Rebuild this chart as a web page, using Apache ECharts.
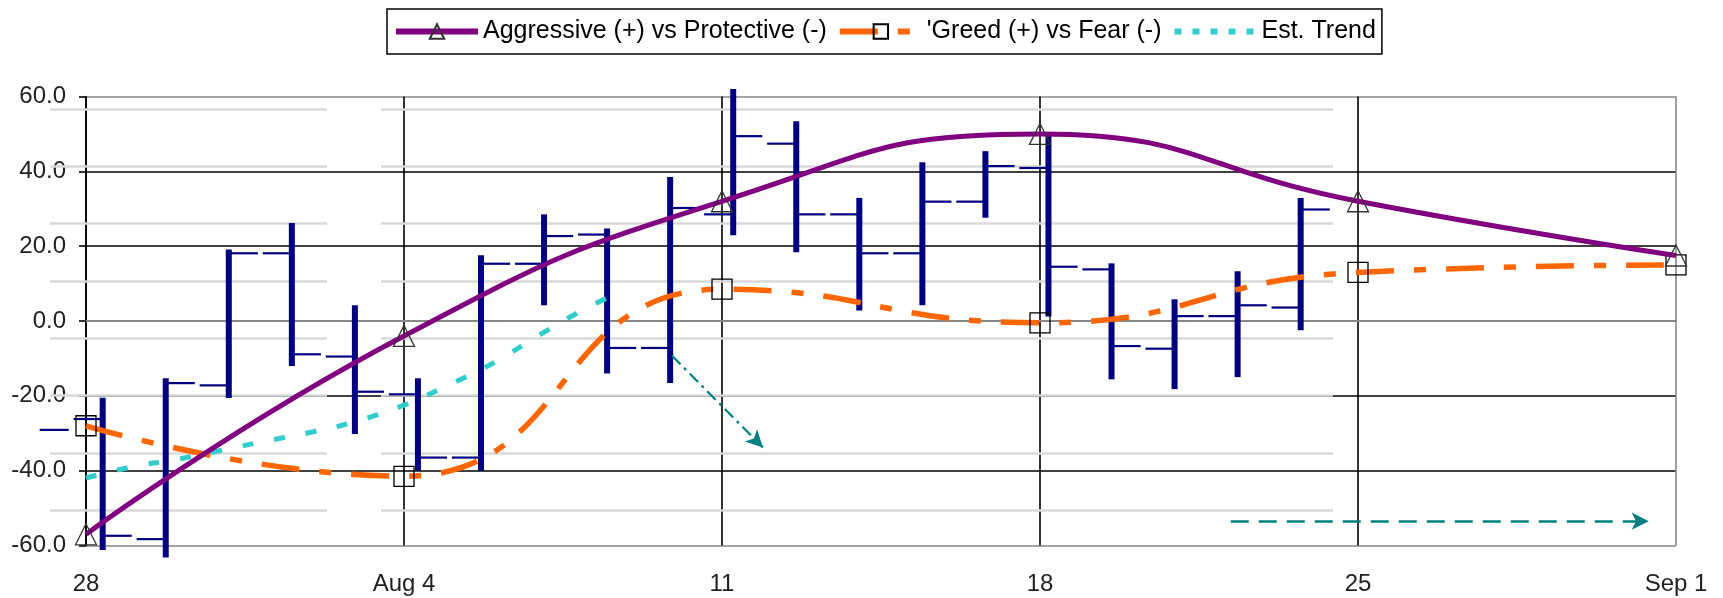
<!DOCTYPE html>
<html>
<head>
    <meta charset="utf-8">
    <title>Sentiment chart</title>
    <script src="https://cdn.jsdelivr.net/npm/echarts@6/dist/echarts.min.js"></script>
    <style type="text/css">
        html, body { margin: 0; padding: 0; background: #fff; }
        #chart { width: 1723px; height: 598px; }
    </style>
</head>
<body>
    <div id="chart"></div>
    <script>
        // weekly axis (days from Jul 28)
        var weekLabels = ['28', 'Aug 4', '11', '18', '25', 'Sep 1'];
        var weekDays = [0, 7, 14, 21, 28, 35];
        var aggressive = [-57, -4, 32, 50, 32, 17.5];
        var greed = [-28, -41.5, 8.5, -0.5, 13, 15];

        // est. trend
        var trendDays = [0, 1, 2, 3, 4, 5, 6, 7, 8, 9, 10, 11, 11.8];
        var trendVals = [-42, -39, -37, -34.5, -32, -29.6, -26.6, -22.5, -17, -11, -3.6, 3.3, 8];

        // daily bars (open / high / low / close)
        var barLabels = ['0', '1', '2', '3', '4', '5', '6', '7', '8', '9', '10', '11', '12', '13', '14', '15', '16', '17', '18', '19', '20'];
        var barOpen = ['-', -26.2, -58.3, -17.2, 18.1, -9.5, -19.6, -36.5, 15.3, 23.1, -7.2, 28.5, 47.4, 28.5, 18.1, 31.9, 40.9, 13.8, -7.4, 1.3, 3.6];
        var barHigh = ['-', -20.5, -15.3, 19.1, 26.2, 4.2, -15.3, 17.6, 28.5, 24.7, 38.5, 62, 53.4, 32.9, 42.4, 45.4, 50.3, 15.4, 5.8, 13.3, 32.9];
        var barLow = ['-', -61.2, -63.2, -20.6, -12.0, -30.2, -40.0, -40.0, 4.2, -14.0, -16.6, 22.9, 18.4, 2.8, 4.2, 27.6, 1.2, -15.6, -18.2, -15.0, -2.5];
        var barClose = [-29.1, -57.4, -16.6, 18.1, -8.9, -18.9, -36.5, 15.3, 22.7, -7.2, 30.2, 49.4, 28.5, 18.1, 31.9, 41.4, 14.5, -6.7, 1.3, 4.2, 29.8];

        // annotation arrows [dayFrom, valFrom, dayTo, valTo]
        var arrowDown = [12.9, -9.3, 14.9, -33.8];
        var arrowFlat = [25.2, -53.5, 34.4, -53.5];

        var FONT = "'Liberation Sans', Arial, sans-serif";

        var aggData = weekDays.map(function (d, i) { return [d, aggressive[i]]; });
        var greedData = weekDays.map(function (d, i) { return [d, greed[i]]; });
        var trendData = trendDays.map(function (d, i) { return [d, trendVals[i]]; });
        var barData = barLabels.map(function (c, i) { return [i, barOpen[i], barHigh[i], barLow[i], barClose[i]]; });

        function renderBar(params, api) {
            var i = api.value(0);
            var o = api.value(1), h = api.value(2), l = api.value(3), c = api.value(4);
            var band = api.size([1, 0])[0];
            var tick = band * 0.43;
            var kids = [];
            var tickStyle = { stroke: '#000080', lineWidth: 2.2 };
            if (!isNaN(h) && !isNaN(l)) {
                var top = api.coord([i, h]);
                var bot = api.coord([i, l]);
                kids.push({ type: 'line', shape: { x1: top[0], y1: top[1], x2: bot[0], y2: bot[1] }, style: { stroke: '#000080', lineWidth: 6 } });
            }
            if (!isNaN(o)) {
                var po = api.coord([i, o]);
                kids.push({ type: 'line', shape: { x1: po[0] - 2 - tick, y1: po[1], x2: po[0], y2: po[1] }, style: tickStyle });
            }
            if (!isNaN(c)) {
                var pc = api.coord([i, c]);
                kids.push({ type: 'line', shape: { x1: pc[0], y1: pc[1], x2: pc[0] + 2 + tick, y2: pc[1] }, style: tickStyle });
            }
            return { type: 'group', children: kids };
        }

        function grayAxis(idx) {
            return {
                type: 'value', gridIndex: idx, min: 0, max: 7, interval: 1, z: 1,
                axisLine: { show: false }, axisTick: { show: false }, axisLabel: { show: false },
                splitLine: { show: true, lineStyle: { color: '#d9d9d9', width: 2.5 } }
            };
        }

        var chart = echarts.init(document.getElementById('chart'));
        var option = {
            animation: false,
            backgroundColor: '#fff',
            textStyle: { fontFamily: FONT },
            legend: {
                left: 387, top: 9,
                padding: [10, 6, 10, 6],
                borderColor: '#000', borderWidth: 1.5,
                itemWidth: 82, itemHeight: 18, itemGap: 10,
                textStyle: { fontFamily: FONT, fontSize: 25, color: '#000' },
                data: [
                    { name: 'Aggressive (+) vs Protective (-)', lineStyle: { width: 6 } },
                    { name: "'Greed (+) vs Fear (-)", lineStyle: { width: 6 } },
                    { name: 'Est. Trend', lineStyle: { width: 6, type: [7, 11] }, itemStyle: { color: 'rgba(0,0,0,0)', borderWidth: 0 } }
                ]
            },
            grid: [
                { left: 86, right: 47, top: 96.5, bottom: 52.5, outerBoundsMode: 'none' },
                { left: 8.1, right: 390.8, top: 96.5, bottom: 52.5, outerBoundsMode: 'none' },
                { left: 50, right: 1396, top: 108.9, bottom: 87.6, outerBoundsMode: 'none' },
                { left: 381, right: 390, top: 108.9, bottom: 87.6, outerBoundsMode: 'none' }
            ],
            xAxis: [
                {
                    type: 'value', gridIndex: 0, min: 0, max: 35, interval: 7,
                    axisLine: { show: true, lineStyle: { color: '#888', width: 2 } },
                    axisTick: { show: false },
                    axisLabel: {
                        margin: 27, fontSize: 24, color: '#222', fontFamily: FONT,
                        formatter: function (v) { return weekLabels[weekDays.indexOf(v)]; }
                    },
                    splitLine: { show: true, lineStyle: { color: ['#000', '#000', '#000', '#000', '#000', '#888'], width: 1.6 } }
                },
                { type: 'category', gridIndex: 1, data: barLabels, boundaryGap: true, show: false },
                { type: 'value', gridIndex: 2, min: 0, max: 1, show: false },
                { type: 'value', gridIndex: 3, min: 0, max: 1, show: false }
            ],
            yAxis: [
                {
                    type: 'value', gridIndex: 0, min: -60, max: 60, interval: 20,
                    axisLine: { show: true, lineStyle: { color: '#000', width: 1.6 } },
                    axisTick: { show: true, inside: false, length: 7, lineStyle: { color: '#000', width: 1.6 } },
                    axisLabel: {
                        margin: 20, fontSize: 24, color: '#222', fontFamily: FONT,
                        formatter: function (v) { return v.toFixed(1); }
                    },
                    splitLine: { show: true, lineStyle: { color: ['#888', '#000', '#000', '#000', '#000', '#000', '#888'], width: 1.6 } }
                },
                { type: 'value', gridIndex: 1, min: -60, max: 60, show: false },
                grayAxis(2),
                grayAxis(3)
            ],
            series: [
                {
                    name: 'bars', type: 'custom', xAxisIndex: 1, yAxisIndex: 1,
                    renderItem: renderBar, data: barData, z: 3,
                    encode: { x: 0, y: [1, 2, 3, 4] }
                },
                {
                    name: 'Est. Trend', type: 'line', xAxisIndex: 0, yAxisIndex: 0,
                    data: trendData, smooth: true, showSymbol: false, symbol: 'none', z: 4,
                    itemStyle: { color: '#33cccc' },
                    lineStyle: { color: '#33cccc', width: 5, type: [11, 21] }
                },
                {
                    name: "'Greed (+) vs Fear (-)", type: 'line', xAxisIndex: 0, yAxisIndex: 0,
                    data: greedData, smooth: true, z: 5,
                    symbol: 'rect', symbolSize: 20,
                    itemStyle: { color: 'rgba(0,0,0,0)', borderColor: '#000', borderWidth: 1.3 },
                    lineStyle: { color: '#ff6600', width: 5.5, type: [38, 20, 12, 20] }
                },
                {
                    name: 'Aggressive (+) vs Protective (-)', type: 'line', xAxisIndex: 0, yAxisIndex: 0,
                    data: aggData, smooth: true, z: 6,
                    symbol: 'triangle', symbolSize: 21,
                    itemStyle: { color: 'rgba(0,0,0,0)', borderColor: '#333', borderWidth: 1.3 },
                    lineStyle: { color: '#800080', width: 5 },
                    markLine: {
                        silent: true, symbol: ['none', 'arrow'], symbolSize: [13, 17],
                        label: { show: false },
                        data: [
                            [
                                { coord: [arrowDown[0], arrowDown[1]], lineStyle: { color: '#008080', width: 2.2, type: [12, 5, 3, 5] } },
                                { coord: [arrowDown[2], arrowDown[3]] }
                            ],
                            [
                                { coord: [arrowFlat[0], arrowFlat[1]], lineStyle: { color: '#008080', width: 2.5, type: [18, 10] } },
                                { coord: [arrowFlat[2], arrowFlat[3]] }
                            ]
                        ]
                    }
                }
            ]
        };
        chart.setOption(option);
    </script>
</body>
</html>
